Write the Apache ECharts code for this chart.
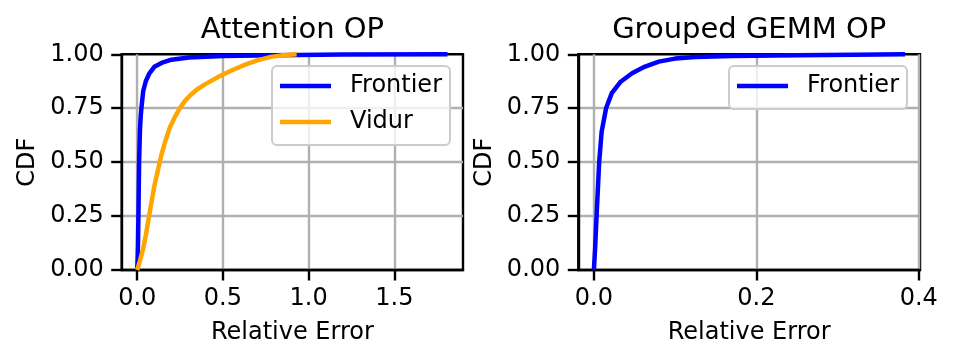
<!DOCTYPE html>
<html>
<head>
<meta charset="utf-8">
<script src="https://cdn.jsdelivr.net/npm/echarts@6/dist/echarts.min.js"></script>
<style>
  html, body { margin: 0; padding: 0; background: #fff; }
  #chart { width: 956px; height: 362px; }
</style>
</head>
<body>
<div id="chart"></div>
<script>
// CDF curves, points are [relative error, cdf]
var attnFrontier = [
  [0, 0], [0.004, 0.1], [0.007, 0.25], [0.011, 0.5], [0.016, 0.65], [0.021, 0.72],
  [0.027, 0.77], [0.035, 0.83], [0.05, 0.875], [0.07, 0.91], [0.1, 0.942],
  [0.15, 0.963], [0.2, 0.975], [0.3, 0.985], [0.5, 0.992], [0.8, 0.996],
  [1.2, 0.999], [1.81, 1.0]
];
var attnVidur = [
  [0, 0], [0.015, 0.04], [0.035, 0.1], [0.05, 0.16], [0.065, 0.23], [0.08, 0.3],
  [0.1, 0.39], [0.12, 0.46], [0.14, 0.53], [0.165, 0.6], [0.19, 0.66],
  [0.22, 0.71], [0.25, 0.752], [0.28, 0.785], [0.31, 0.81], [0.35, 0.838],
  [0.4, 0.863], [0.48, 0.898], [0.55, 0.925], [0.63, 0.952], [0.7, 0.972],
  [0.78, 0.988], [0.86, 0.997], [0.93, 1.0]
];
var gemmFrontier = [
  [0, 0], [0.0015, 0.1], [0.0033, 0.25], [0.0065, 0.5], [0.0095, 0.64],
  [0.015, 0.75], [0.022, 0.82], [0.033, 0.873], [0.047, 0.912], [0.063, 0.943],
  [0.08, 0.966], [0.1, 0.98], [0.125, 0.988], [0.17, 0.992], [0.25, 0.996],
  [0.32, 0.998], [0.383, 1.0]
];
var cdfTicks = [0, 0.25, 0.5, 0.75, 1];
var attnTicks = [0, 0.5, 1.0, 1.5];
var gemmTicks = [0, 0.2, 0.4];

var FONT = 'DejaVu Sans';
var FS = 24;
var BLUE = '#0000ff';
var ORANGE = '#ffa500';

function xAxis(idx, min, max, ticks) {
  return {
    type: 'value', gridIndex: idx, min: min, max: max,
    name: 'Relative Error', nameLocation: 'middle', nameGap: 51,
    nameTextStyle: { fontFamily: FONT, fontSize: FS, color: '#000' },
    axisLine: { show: true, onZero: false, lineStyle: { color: '#000', width: 2.4 } },
    axisTick: { show: true, customValues: ticks, length: 10.5, lineStyle: { color: '#000', width: 2.4 } },
    axisLabel: { customValues: ticks, margin: 17, fontFamily: FONT, fontSize: FS, color: '#000',
      formatter: function (v) { return v.toFixed(1); } },
    splitLine: { show: true, lineStyle: { color: '#b0b0b0', width: 2.4 } }
  };
}
function yAxis(idx) {
  return {
    type: 'value', gridIndex: idx, min: 0, max: 1, interval: 0.25,
    name: 'CDF', nameLocation: 'middle', nameGap: 82,
    nameTextStyle: { fontFamily: FONT, fontSize: FS, color: '#000' },
    axisLine: { show: true, onZero: false, lineStyle: { color: '#000', width: 2.4 } },
    axisTick: { show: true, length: 10.5, lineStyle: { color: '#000', width: 2.4 } },
    axisLabel: { margin: 18, fontFamily: FONT, fontSize: FS, color: '#000',
      formatter: function (v) { return v.toFixed(2); } },
    splitLine: { show: true, showMinLine: false, showMaxLine: false,
      lineStyle: { color: '#b0b0b0', width: 2.4 } }
  };
}
function legend(names, left) {
  return {
    data: names, orient: 'vertical', left: left, top: 66,
    icon: 'rect', itemWidth: 51, itemHeight: 4.5, itemGap: 8,
    padding: [6, 8, 9, 8], selectedMode: false,
    backgroundColor: 'rgba(255,255,255,0.8)', borderColor: '#cccccc',
    borderWidth: 2, borderRadius: 5,
    textStyle: { fontFamily: FONT, fontSize: FS, color: '#000', lineHeight: 28, padding: [0, 0, 0, 14] }
  };
}
function line(name, color, data, idx) {
  return {
    name: name, type: 'line', xAxisIndex: idx, yAxisIndex: idx, data: data,
    showSymbol: false, symbol: 'none',
    lineStyle: { color: color, width: 4.5 }, itemStyle: { color: color }
  };
}

var chart = echarts.init(document.getElementById('chart'));
chart.setOption({
  animation: false,
  backgroundColor: '#fff',
  grid: [
    { left: 121.7, right: 493, top: 54.3, bottom: 92, outerBoundsMode: 'none',
      show: true, borderColor: '#000', borderWidth: 2.4 },
    { left: 578.3, right: 36, top: 54.3, bottom: 92, outerBoundsMode: 'none',
      show: true, borderColor: '#000', borderWidth: 2.4 }
  ],
  graphic: [
    { type: 'text', x: 292.4, y: 30.5, style: { text: 'Attention OP', fontFamily: FONT, fontSize: 29,
      fill: '#000', textAlign: 'center', textVerticalAlign: 'middle' } },
    { type: 'text', x: 749.2, y: 30.5, style: { text: 'Grouped GEMM OP', fontFamily: FONT, fontSize: 29,
      fill: '#000', textAlign: 'center', textVerticalAlign: 'middle' } }
  ],
  xAxis: [xAxis(0, -0.0905, 1.9005, attnTicks), xAxis(1, -0.0192, 0.4015, gemmTicks)],
  yAxis: [yAxis(0), yAxis(1)],
  legend: [legend(['Frontier', 'Vidur'], 272), legend(['Frontier'], 729)],
  series: [
    line('Frontier', BLUE, attnFrontier, 0),
    line('Vidur', ORANGE, attnVidur, 0),
    line('Frontier', BLUE, gemmFrontier, 1)
  ]
});
</script>
</body>
</html>
